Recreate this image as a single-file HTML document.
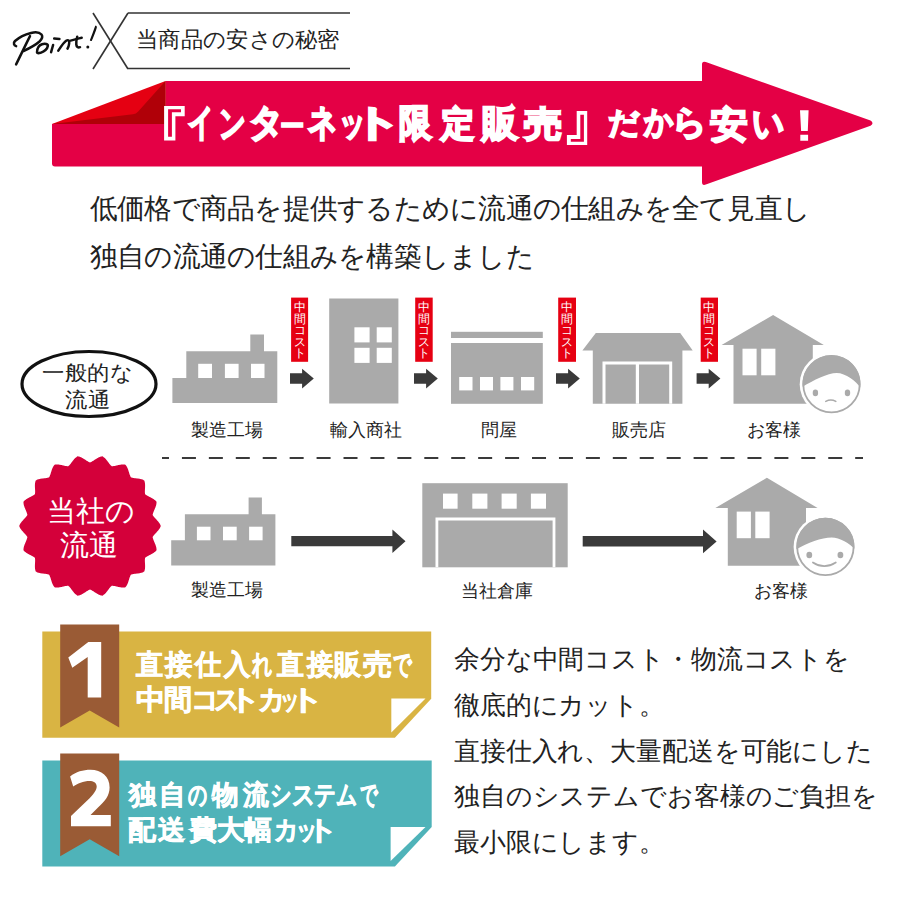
<!DOCTYPE html>
<html lang="ja"><head><meta charset="utf-8">
<style>
html,body{margin:0;padding:0;background:#fff;}
body{width:900px;height:900px;position:relative;overflow:hidden;font-family:"Liberation Sans",sans-serif;color:#222;}
.t{position:absolute;white-space:nowrap;}
svg{position:absolute;left:0;top:0;}
.vt{position:absolute;width:17px;font-size:11.5px;line-height:11.6px;color:#fff;text-align:center;white-space:normal;word-break:break-all;}
</style></head><body>
<svg width="900" height="900" viewBox="0 0 900 900">
  <!-- header -->
  <g fill="none" stroke="#111" stroke-width="2.5" stroke-linecap="round" stroke-linejoin="round">
    <path d="M16.1,46.1 C14,45.5 13,43 15,41 C19,37.5 25,34.5 31,33 C35,32 39.5,32.3 41.5,34.5 C43,36.5 42,39 39.5,41.5 C35.5,45 29,48.5 23.5,51"/>
    <path d="M30,36.1 C25,46 20.5,55.5 16.1,64.4"/>
    <path d="M37,52.6 C37,49 38,45.5 42,44.2 C45,43.3 48.2,44 47.8,46 C47.4,48.5 44,51.5 40.5,52.8 C39,53.3 37,53.4 37,52.6 Z"/>
    <path d="M53.1,45 L51.1,52.2"/>
    <path d="M54.2,38.6 L59.4,38.9"/>
    <path d="M58.3,50.6 C61,46.5 64,42 66.5,40.5 C68.5,39.5 69.6,41 69.2,43 C68.9,45 68.8,47 67.5,48.6"/>
    <path d="M70.6,40.6 C74,39.8 78,38.6 81.7,37.8"/>
    <path d="M77.2,36.7 C76.6,39 76,42 76.3,44.5 C76.6,47 78,48 80,47.2"/>
  </g>
  <path d="M95.8,26.3 C95,29 92.5,35 90.6,40.2 L91.2,40.4 C93.5,35 95.8,30 96.2,27 Z" fill="#111" stroke="#111" stroke-width="1.4" stroke-linejoin="round"/>
  <circle cx="87.8" cy="46.9" r="1.5" fill="#111"/>
  <g stroke="#333" stroke-width="1.6" fill="none">
    <path d="M93,13 L128,69"/>
    <path d="M93,69 L128,13"/>
    <path d="M128,13 L350,13"/>
    <path d="M128,68.5 L350,68.5"/>
  </g>
  <!-- banner -->
  <path d="M165.5,81 L702,81 L702,64.5 Q702,60.6 705.8,62 L870.5,120.6 Q874.5,123.2 870.5,125.8 L705.8,184.6 Q702,186 702,182 L702,166.5 L55,166.5 Q52,166.5 52,163.5 L52,124 L165.5,124 Z" fill="#e40045"/>
  <path d="M52,124 L165.5,81 L165.5,124 Z" fill="#e50012"/>
  <path d="M165.5,81 L165.5,124 L52,124 L133,114.2 Q136.2,113.8 138.2,111.4 Z" fill="#b00008"/>
  <path fill-rule="evenodd" fill="#fff" d="M164.1,105.9 L184.7,105.9 L184.7,116.3 L175.4,116.3 L175.4,140.6 L164.1,140.6 Z M168.1,109.3 L181,109.3 L181,112.3 L171.9,112.3 L171.9,136.8 L168.1,136.8 Z"/>
  <path fill-rule="evenodd" fill="#fff" d="M576.7,111.1 L587.2,111.1 L587.2,145 L566.9,145 L566.9,135 L576.7,135 Z M580.3,114.7 L583.9,114.7 L583.9,141.7 L570.8,141.7 L570.8,138.9 L580.3,138.9 Z"/>
  <path fill="#fff" d="M800,110.2 L808.6,110.2 L807.8,131.1 L801.1,131.1 Z M800.3,134.7 L808.1,134.7 L808.1,140.8 L800.3,140.8 Z"/>
  <!-- dashed line -->
  <line x1="162" y1="458" x2="863" y2="458" stroke="#3a3a3a" stroke-width="1.8" stroke-dasharray="14 12.93" stroke-dashoffset="7"/>
  <!-- row1 -->
  <ellipse cx="89" cy="384" rx="67" ry="32.5" fill="#fff" stroke="#111" stroke-width="3.2"/>
  <g fill="#aaa">
    <!-- factory -->
    <path d="M172.4,378 L186.3,378 L186.3,351.3 L250.3,351.3 L250.3,334.4 L264,334.4 L264,351.3 L277.3,351.3 L277.3,403 L172.4,403 Z"/>
    <!-- building -->
    <rect x="329.2" y="298.5" width="69.2" height="105"/>
    <!-- tonya -->
    <rect x="451" y="331.8" width="91.8" height="6.2"/>
    <rect x="451" y="343" width="91.8" height="60.8"/>
    <!-- shop -->
    <path d="M595.8,333 L680.2,333 L692.7,350.4 L682.4,350.4 L682.4,403.8 L592.8,403.8 L592.8,350.4 L582.4,350.4 Z"/>
    <!-- house -->
    <path d="M773.1,314.9 L823.8,345.1 L812.8,345.1 L812.8,403.8 L733.5,403.8 L733.5,345.1 L721.6,345.1 Z"/>
  </g>
  <g fill="#fff">
    <rect x="198.2" y="363.8" width="13.8" height="14.2"/><rect x="224.9" y="363.8" width="13.7" height="14.2"/><rect x="251" y="363.8" width="13.5" height="14.2"/>
    <rect x="354.4" y="327.3" width="15.2" height="15.1"/><rect x="376.7" y="327.3" width="15.1" height="15.1"/>
    <rect x="354.4" y="347.8" width="15.2" height="15.1"/><rect x="376.7" y="347.8" width="15.1" height="15.1"/>
    <rect x="459.2" y="377" width="13.3" height="13.4"/><rect x="480" y="377" width="13" height="13.4"/><rect x="500.4" y="377" width="13" height="13.4"/><rect x="521" y="377" width="13.2" height="13.4"/>
    <path d="M602.5,361.5 L672.2,361.5 L672.2,403.8 L669.2,403.8 L669.2,364.5 L639,364.5 L639,403.8 L635.8,403.8 L635.8,364.5 L605.5,364.5 L605.5,403.8 L602.5,403.8 Z"/>
    <rect x="742.5" y="348.7" width="14.1" height="26.6"/><rect x="761.2" y="348.7" width="14.2" height="26.6"/>
  </g>
  <!-- red labels -->
  <g fill="#e60012">
    <rect x="291.1" y="297.6" width="17" height="64.2"/>
    <rect x="415.2" y="297.6" width="17.5" height="64.2"/>
    <rect x="558.2" y="297.6" width="17.8" height="64.2"/>
    <rect x="700.7" y="297.6" width="17.3" height="64.2"/>
  </g>
  <!-- small arrows -->
  <g fill="#3a3a3a">
    <path id="sa" d="M290,373.3 L302.1,373.3 L302.1,368.7 L313.8,378.6 L302.1,388.5 L302.1,383.8 L290,383.8 Z"/>
    <use href="#sa" x="124"/>
    <use href="#sa" x="266"/>
    <use href="#sa" x="406.6"/>
  </g>
  <!-- face 1 -->
  <g>
    <circle cx="831.5" cy="384.2" r="31.8" fill="#fff"/>
    <circle cx="831.5" cy="384.2" r="28.2" fill="#fff" stroke="#aaa" stroke-width="1.8"/>
    <path d="M802.56,386.70 A29.05,29.05 0 1 1 860.36,387.50 C856.5,381.2 845.5,372.9 836.7,372.9 C827.5,372.9 813.5,380.2 802.56,386.70 Z" fill="#aaa"/>
    <ellipse cx="815.4" cy="392.9" rx="2.7" ry="3.3" fill="#aaa"/><ellipse cx="847.5" cy="392.9" rx="2.7" ry="3.3" fill="#aaa"/>
    <path d="M825.8,401.4 Q830.8,398.7 835.8,401.4" fill="none" stroke="#aaa" stroke-width="1.6" stroke-linecap="round"/>
  </g>
  <!-- row2 -->
  <polygon points="90.00,462.40 90.56,462.18 91.12,461.93 91.69,461.65 92.26,461.34 92.84,461.00 93.43,460.63 94.02,460.25 94.63,459.86 95.24,459.46 95.86,459.06 96.48,458.66 97.12,458.28 97.76,457.91 98.40,457.57 99.05,457.26 99.70,456.98 100.35,456.74 101.00,456.54 101.65,456.39 102.29,456.28 102.86,456.60 103.42,456.97 103.96,457.38 104.49,457.82 105.01,458.31 105.51,458.82 106.00,459.36 106.47,459.93 106.94,460.50 107.39,461.09 107.84,461.68 108.28,462.27 108.71,462.84 109.14,463.40 109.57,463.95 109.99,464.47 110.43,464.96 110.86,465.42 111.30,465.84 111.75,466.24 112.35,466.22 112.96,466.18 113.59,466.11 114.24,466.01 114.90,465.89 115.58,465.75 116.27,465.59 116.97,465.43 117.68,465.26 118.40,465.10 119.12,464.94 119.85,464.80 120.58,464.67 121.30,464.57 122.02,464.50 122.72,464.46 123.42,464.46 124.09,464.49 124.76,464.57 125.40,464.69 125.82,465.18 126.22,465.72 126.59,466.29 126.93,466.89 127.25,467.52 127.55,468.18 127.82,468.85 128.08,469.55 128.32,470.25 128.54,470.95 128.76,471.66 128.97,472.36 129.18,473.05 129.39,473.72 129.61,474.38 129.83,475.01 130.07,475.62 130.32,476.20 130.59,476.76 130.88,477.28 131.45,477.47 132.04,477.64 132.65,477.79 133.29,477.92 133.96,478.03 134.64,478.13 135.34,478.22 136.06,478.31 136.78,478.39 137.52,478.48 138.25,478.58 138.98,478.70 139.71,478.83 140.42,478.98 141.12,479.16 141.80,479.36 142.45,479.60 143.07,479.86 143.67,480.16 144.24,480.49 144.46,481.10 144.65,481.74 144.81,482.41 144.92,483.09 145.01,483.79 145.06,484.51 145.09,485.24 145.09,485.97 145.08,486.71 145.05,487.46 145.01,488.19 144.97,488.92 144.93,489.64 144.90,490.35 144.87,491.04 144.87,491.71 144.88,492.37 144.92,493.00 144.99,493.61 145.08,494.20 145.54,494.57 146.04,494.94 146.57,495.29 147.13,495.62 147.71,495.96 148.32,496.28 148.95,496.61 149.59,496.93 150.25,497.26 150.90,497.60 151.56,497.95 152.21,498.30 152.85,498.67 153.46,499.06 154.06,499.47 154.62,499.89 155.16,500.33 155.65,500.80 156.11,501.28 156.53,501.78 156.53,502.44 156.49,503.10 156.41,503.78 156.29,504.46 156.13,505.15 155.93,505.84 155.71,506.54 155.46,507.23 155.19,507.92 154.91,508.61 154.62,509.29 154.33,509.96 154.05,510.62 153.78,511.28 153.52,511.92 153.29,512.55 153.08,513.17 152.90,513.77 152.75,514.37 152.63,514.96 152.94,515.47 153.29,515.98 153.66,516.49 154.07,517.00 154.51,517.51 154.97,518.02 155.45,518.54 155.94,519.07 156.44,519.60 156.94,520.14 157.44,520.69 157.93,521.25 158.40,521.82 158.85,522.39 159.27,522.98 159.66,523.57 160.01,524.17 160.31,524.77 160.58,525.38 160.80,526.00 160.58,526.62 160.31,527.23 160.01,527.83 159.66,528.43 159.27,529.02 158.85,529.61 158.40,530.18 157.93,530.75 157.44,531.31 156.94,531.86 156.44,532.40 155.94,532.93 155.45,533.46 154.97,533.98 154.51,534.49 154.07,535.00 153.66,535.51 153.29,536.02 152.94,536.53 152.63,537.04 152.75,537.63 152.90,538.23 153.08,538.83 153.29,539.45 153.52,540.08 153.78,540.72 154.05,541.38 154.33,542.04 154.62,542.71 154.91,543.39 155.19,544.08 155.46,544.77 155.71,545.46 155.93,546.16 156.13,546.85 156.29,547.54 156.41,548.22 156.49,548.90 156.53,549.56 156.53,550.22 156.11,550.72 155.65,551.20 155.16,551.67 154.62,552.11 154.06,552.53 153.46,552.94 152.85,553.33 152.21,553.70 151.56,554.05 150.90,554.40 150.25,554.74 149.59,555.07 148.95,555.39 148.32,555.72 147.71,556.04 147.13,556.38 146.57,556.71 146.04,557.06 145.54,557.43 145.08,557.80 144.99,558.39 144.92,559.00 144.88,559.63 144.87,560.29 144.87,560.96 144.90,561.65 144.93,562.36 144.97,563.08 145.01,563.81 145.05,564.54 145.08,565.29 145.09,566.03 145.09,566.76 145.06,567.49 145.01,568.21 144.92,568.91 144.81,569.59 144.65,570.26 144.46,570.90 144.24,571.51 143.67,571.84 143.07,572.14 142.45,572.40 141.80,572.64 141.12,572.84 140.42,573.02 139.71,573.17 138.98,573.30 138.25,573.42 137.52,573.52 136.78,573.61 136.06,573.69 135.34,573.78 134.64,573.87 133.96,573.97 133.29,574.08 132.65,574.21 132.04,574.36 131.45,574.53 130.88,574.72 130.59,575.24 130.32,575.80 130.07,576.38 129.83,576.99 129.61,577.62 129.39,578.28 129.18,578.95 128.97,579.64 128.76,580.34 128.54,581.05 128.32,581.75 128.08,582.45 127.82,583.15 127.55,583.82 127.25,584.48 126.93,585.11 126.59,585.71 126.22,586.28 125.82,586.82 125.40,587.31 124.76,587.43 124.09,587.51 123.42,587.54 122.72,587.54 122.02,587.50 121.30,587.43 120.58,587.33 119.85,587.20 119.12,587.06 118.40,586.90 117.68,586.74 116.97,586.57 116.27,586.41 115.58,586.25 114.90,586.11 114.24,585.99 113.59,585.89 112.96,585.82 112.35,585.78 111.75,585.76 111.30,586.16 110.86,586.58 110.43,587.04 109.99,587.53 109.57,588.05 109.14,588.60 108.71,589.16 108.28,589.73 107.84,590.32 107.39,590.91 106.94,591.50 106.47,592.07 106.00,592.64 105.51,593.18 105.01,593.69 104.49,594.18 103.96,594.62 103.42,595.03 102.86,595.40 102.29,595.72 101.65,595.61 101.00,595.46 100.35,595.26 99.70,595.02 99.05,594.74 98.40,594.43 97.76,594.09 97.12,593.72 96.48,593.34 95.86,592.94 95.24,592.54 94.63,592.14 94.02,591.75 93.43,591.37 92.84,591.00 92.26,590.66 91.69,590.35 91.12,590.07 90.56,589.82 90.00,589.60 89.44,589.82 88.88,590.07 88.31,590.35 87.74,590.66 87.16,591.00 86.57,591.37 85.98,591.75 85.37,592.14 84.76,592.54 84.14,592.94 83.52,593.34 82.88,593.72 82.24,594.09 81.60,594.43 80.95,594.74 80.30,595.02 79.65,595.26 79.00,595.46 78.35,595.61 77.71,595.72 77.14,595.40 76.58,595.03 76.04,594.62 75.51,594.18 74.99,593.69 74.49,593.18 74.00,592.64 73.53,592.07 73.06,591.50 72.61,590.91 72.16,590.32 71.72,589.73 71.29,589.16 70.86,588.60 70.43,588.05 70.01,587.53 69.57,587.04 69.14,586.58 68.70,586.16 68.25,585.76 67.65,585.78 67.04,585.82 66.41,585.89 65.76,585.99 65.10,586.11 64.42,586.25 63.73,586.41 63.03,586.57 62.32,586.74 61.60,586.90 60.88,587.06 60.15,587.20 59.42,587.33 58.70,587.43 57.98,587.50 57.28,587.54 56.58,587.54 55.91,587.51 55.24,587.43 54.60,587.31 54.18,586.82 53.78,586.28 53.41,585.71 53.07,585.11 52.75,584.48 52.45,583.82 52.18,583.15 51.92,582.45 51.68,581.75 51.46,581.05 51.24,580.34 51.03,579.64 50.82,578.95 50.61,578.28 50.39,577.62 50.17,576.99 49.93,576.38 49.68,575.80 49.41,575.24 49.12,574.72 48.55,574.53 47.96,574.36 47.35,574.21 46.71,574.08 46.04,573.97 45.36,573.87 44.66,573.78 43.94,573.69 43.22,573.61 42.48,573.52 41.75,573.42 41.02,573.30 40.29,573.17 39.58,573.02 38.88,572.84 38.20,572.64 37.55,572.40 36.93,572.14 36.33,571.84 35.76,571.51 35.54,570.90 35.35,570.26 35.19,569.59 35.08,568.91 34.99,568.21 34.94,567.49 34.91,566.76 34.91,566.03 34.92,565.29 34.95,564.54 34.99,563.81 35.03,563.08 35.07,562.36 35.10,561.65 35.13,560.96 35.13,560.29 35.12,559.63 35.08,559.00 35.01,558.39 34.92,557.80 34.46,557.43 33.96,557.06 33.43,556.71 32.87,556.38 32.29,556.04 31.68,555.72 31.05,555.39 30.41,555.07 29.75,554.74 29.10,554.40 28.44,554.05 27.79,553.70 27.15,553.33 26.54,552.94 25.94,552.53 25.38,552.11 24.84,551.67 24.35,551.20 23.89,550.72 23.47,550.22 23.47,549.56 23.51,548.90 23.59,548.22 23.71,547.54 23.87,546.85 24.07,546.16 24.29,545.46 24.54,544.77 24.81,544.08 25.09,543.39 25.38,542.71 25.67,542.04 25.95,541.38 26.22,540.72 26.48,540.08 26.71,539.45 26.92,538.83 27.10,538.23 27.25,537.63 27.37,537.04 27.06,536.53 26.71,536.02 26.34,535.51 25.93,535.00 25.49,534.49 25.03,533.98 24.55,533.46 24.06,532.93 23.56,532.40 23.06,531.86 22.56,531.31 22.07,530.75 21.60,530.18 21.15,529.61 20.73,529.02 20.34,528.43 19.99,527.83 19.69,527.23 19.42,526.62 19.20,526.00 19.42,525.38 19.69,524.77 19.99,524.17 20.34,523.57 20.73,522.98 21.15,522.39 21.60,521.82 22.07,521.25 22.56,520.69 23.06,520.14 23.56,519.60 24.06,519.07 24.55,518.54 25.03,518.02 25.49,517.51 25.93,517.00 26.34,516.49 26.71,515.98 27.06,515.47 27.37,514.96 27.25,514.37 27.10,513.77 26.92,513.17 26.71,512.55 26.48,511.92 26.22,511.28 25.95,510.62 25.67,509.96 25.38,509.29 25.09,508.61 24.81,507.92 24.54,507.23 24.29,506.54 24.07,505.84 23.87,505.15 23.71,504.46 23.59,503.78 23.51,503.10 23.47,502.44 23.47,501.78 23.89,501.28 24.35,500.80 24.84,500.33 25.38,499.89 25.94,499.47 26.54,499.06 27.15,498.67 27.79,498.30 28.44,497.95 29.10,497.60 29.75,497.26 30.41,496.93 31.05,496.61 31.68,496.28 32.29,495.96 32.87,495.62 33.43,495.29 33.96,494.94 34.46,494.57 34.92,494.20 35.01,493.61 35.08,493.00 35.12,492.37 35.13,491.71 35.13,491.04 35.10,490.35 35.07,489.64 35.03,488.92 34.99,488.19 34.95,487.46 34.92,486.71 34.91,485.97 34.91,485.24 34.94,484.51 34.99,483.79 35.08,483.09 35.19,482.41 35.35,481.74 35.54,481.10 35.76,480.49 36.33,480.16 36.93,479.86 37.55,479.60 38.20,479.36 38.88,479.16 39.58,478.98 40.29,478.83 41.02,478.70 41.75,478.58 42.48,478.48 43.22,478.39 43.94,478.31 44.66,478.22 45.36,478.13 46.04,478.03 46.71,477.92 47.35,477.79 47.96,477.64 48.55,477.47 49.12,477.28 49.41,476.76 49.68,476.20 49.93,475.62 50.17,475.01 50.39,474.38 50.61,473.72 50.82,473.05 51.03,472.36 51.24,471.66 51.46,470.95 51.68,470.25 51.92,469.55 52.18,468.85 52.45,468.18 52.75,467.52 53.07,466.89 53.41,466.29 53.78,465.72 54.18,465.18 54.60,464.69 55.24,464.57 55.91,464.49 56.58,464.46 57.28,464.46 57.98,464.50 58.70,464.57 59.42,464.67 60.15,464.80 60.88,464.94 61.60,465.10 62.32,465.26 63.03,465.43 63.73,465.59 64.42,465.75 65.10,465.89 65.76,466.01 66.41,466.11 67.04,466.18 67.65,466.22 68.25,466.24 68.70,465.84 69.14,465.42 69.57,464.96 70.01,464.47 70.43,463.95 70.86,463.40 71.29,462.84 71.72,462.27 72.16,461.68 72.61,461.09 73.06,460.50 73.53,459.93 74.00,459.36 74.49,458.82 74.99,458.31 75.51,457.82 76.04,457.38 76.58,456.97 77.14,456.60 77.71,456.28 78.35,456.39 79.00,456.54 79.65,456.74 80.30,456.98 80.95,457.26 81.60,457.57 82.24,457.91 82.88,458.28 83.52,458.66 84.14,459.06 84.76,459.46 85.37,459.86 85.98,460.25 86.57,460.63 87.16,461.00 87.74,461.34 88.31,461.65 88.88,461.93 89.44,462.18" fill="#d4003a"/>
  <g fill="#aaa">
    <path d="M171.2,540.3 L184.9,540.3 L184.9,514.2 L248.6,514.2 L248.6,497.4 L261.9,497.4 L261.9,514.2 L275.4,514.2 L275.4,565.5 L171.2,565.5 Z"/>
    <rect x="422.3" y="483.2" width="145.4" height="84.1"/>
    <path d="M766.9,477.8 L817.6,508 L806,508 L806,565.8 L727.8,565.8 L727.8,508 L715.3,508 Z"/>
  </g>
  <g fill="#fff">
    <rect x="196.9" y="526.7" width="13.6" height="13.6"/><rect x="223" y="526.7" width="13.7" height="13.6"/><rect x="249.1" y="526.7" width="13.5" height="13.6"/>
    <rect x="443" y="493.6" width="14.6" height="15.1"/><rect x="472.3" y="493.6" width="15.1" height="15.1"/><rect x="501.6" y="493.6" width="15.1" height="15.1"/><rect x="530.9" y="493.6" width="15.1" height="15.1"/>
    <path d="M435.5,517.6 L555.4,517.6 L555.4,567.3 L552.6,567.3 L552.6,520.4 L438.3,520.4 L438.3,567.3 L435.5,567.3 Z"/>
    <rect x="736.7" y="511.6" width="14.2" height="26.6"/><rect x="755.3" y="511.6" width="14.3" height="26.6"/>
  </g>
  <g fill="#3a3a3a">
    <path d="M291.3,536.1 L392.4,536.1 L392.4,529.4 L405.5,541.2 L392.4,553 L392.4,546.2 L291.3,546.2 Z"/>
    <path d="M582.7,536.1 L703,536.1 L703,529.4 L716.6,541.4 L703,553.3 L703,546.4 L582.7,546.4 Z"/>
  </g>
  <g>
    <circle cx="825.4" cy="546.9" r="31.8" fill="#fff"/>
    <circle cx="825.4" cy="546.9" r="28.2" fill="#fff" stroke="#aaa" stroke-width="1.8"/>
    <path d="M796.44,549.20 A29.05,29.05 0 1 1 854.39,548.80 C850.4,543.9 839.4,537.5 831.7,537.5 C821.4,537.5 807.4,542.9 796.44,549.20 Z" fill="#aaa"/>
    <ellipse cx="809.3" cy="555.0" rx="2.9" ry="3.3" fill="#aaa"/><ellipse cx="840.4" cy="555.0" rx="2.9" ry="3.3" fill="#aaa"/>
    <path d="M812.9,562.5 Q824.2,569.9 835.8,562.5" fill="none" stroke="#aaa" stroke-width="1.7" stroke-linecap="round"/>
  </g>
  <!-- bottom ribbons -->
  <path d="M42.3,631.5 L431.2,631.5 L431.2,698.7 L394.9,737.7 L42.3,737.7 Z" fill="#d9b443"/>
  <path d="M391.3,698.5 L425.5,698.5 L391.3,732.5 Z" fill="#fff"/>
  <path d="M60.2,624.4 L119.2,624.4 L119.2,727.4 L89.7,710.4 L60.2,727.4 Z" fill="#9a5b35"/>
  <path d="M42.3,760.4 L431.7,760.4 L431.7,827 L394.9,866.5 L42.3,866.5 Z" fill="#4fb3b9"/>
  <path d="M390.6,827 L425.5,827 L390.6,861 Z" fill="#fff"/>
  <path d="M60.2,753.6 L119.2,753.6 L119.2,856.2 L89.7,839.2 L60.2,856.2 Z" fill="#9a5b35"/>
  <path fill="#fff" d="M88.3,642 L101.2,642 L101.2,697.5 L87.7,697.5 L87.7,657 L72.3,667.7 L68.3,657.5 Z"/>
  <path fill="#fff" d="M70.1,776.4 C76,771.8 83,769.8 90.5,769.8 C101.5,769.8 109.6,776.5 109.6,787.5 C109.6,796 104.5,801.5 98,807.5 L90.5,815.1 L110.8,815.1 L110.8,826.2 L71,826.2 L71,816 L89.6,798.2 C95,792.9 96.7,789.3 96.7,786.6 C96.7,782.2 93.2,780.9 89.6,780.9 C83.4,780.9 77.2,783.5 73.2,786.6 Z"/>
</svg>
<div class="t" style="left:136.00px;top:28.60px;font-size:22px;line-height:22px;color:#222;font-weight:normal;transform:scale(1.0136,1.0000);transform-origin:0 0;">当商品の安さの秘密</div>
<span class="t" style="left:183.35px;top:103.85px;font-size:37px;line-height:37px;color:#fff;font-weight:bold;-webkit-text-stroke:2.2px #fff;transform:scale(0.679,0.986);transform-origin:16.65px 20.35px;">イ</span>
<span class="t" style="left:212.59px;top:105.05px;font-size:37px;line-height:37px;color:#fff;font-weight:bold;-webkit-text-stroke:2.2px #fff;transform:scale(0.708,0.992);transform-origin:19.05px 20.35px;">ン</span>
<span class="t" style="left:248.25px;top:103.99px;font-size:37px;line-height:37px;color:#fff;font-weight:bold;-webkit-text-stroke:2.2px #fff;transform:scale(0.918,1.002);transform-origin:17.20px 20.16px;">タ</span>
<span class="t" style="left:274.45px;top:108.11px;font-size:37px;line-height:37px;color:#fff;font-weight:bold;-webkit-text-stroke:2.2px #fff;transform:scale(0.661,0.786);transform-origin:18.50px 17.39px;">ー</span>
<span class="t" style="left:304.48px;top:104.25px;font-size:37px;line-height:37px;color:#fff;font-weight:bold;-webkit-text-stroke:2.2px #fff;transform:scale(0.783,1.008);transform-origin:17.57px 20.35px;">ネ</span>
<span class="t" style="left:333.60px;top:103.67px;font-size:37px;line-height:37px;color:#fff;font-weight:bold;-webkit-text-stroke:2.2px #fff;transform:scale(0.721,0.983);transform-origin:18.50px 24.23px;">ッ</span>
<span class="t" style="left:358.91px;top:103.85px;font-size:37px;line-height:37px;color:#fff;font-weight:bold;-webkit-text-stroke:2.2px #fff;transform:scale(1.353,1.007);transform-origin:21.09px 20.35px;">ト</span>
<span class="t" style="left:397.41px;top:105.39px;font-size:37px;line-height:37px;color:#fff;font-weight:bold;-webkit-text-stroke:2.2px #fff;transform:scale(0.883,1.038);transform-origin:19.24px 19.61px;">限</span>
<span class="t" style="left:439.31px;top:105.84px;font-size:37px;line-height:37px;color:#fff;font-weight:bold;-webkit-text-stroke:2.2px #fff;transform:scale(0.910,0.950);transform-origin:17.39px 18.31px;">定</span>
<span class="t" style="left:481.42px;top:105.44px;font-size:37px;line-height:37px;color:#fff;font-weight:bold;-webkit-text-stroke:2.2px #fff;transform:scale(0.957,0.986);transform-origin:18.13px 19.06px;">販</span>
<span class="t" style="left:525.40px;top:105.65px;font-size:37px;line-height:37px;color:#fff;font-weight:bold;-webkit-text-stroke:2.2px #fff;transform:scale(1.046,0.954);transform-origin:17.95px 18.50px;">売</span>
<span class="t" style="left:605.39px;top:103.59px;font-size:37px;line-height:37px;color:#fff;font-weight:bold;-webkit-text-stroke:2.2px #fff;transform:scale(0.838,0.811);transform-origin:19.61px 20.16px;">だ</span>
<span class="t" style="left:640.25px;top:102.84px;font-size:37px;line-height:37px;color:#fff;font-weight:bold;-webkit-text-stroke:2.2px #fff;transform:scale(0.788,0.899);transform-origin:18.50px 20.91px;">か</span>
<span class="t" style="left:671.32px;top:103.99px;font-size:37px;line-height:37px;color:#fff;font-weight:bold;-webkit-text-stroke:2.2px #fff;transform:scale(0.934,0.928);transform-origin:18.69px 20.16px;">ら</span>
<span class="t" style="left:710.03px;top:106.47px;font-size:37px;line-height:37px;color:#fff;font-weight:bold;-webkit-text-stroke:2.2px #fff;transform:scale(1.025,0.981);transform-origin:18.32px 18.13px;">安</span>
<span class="t" style="left:748.66px;top:104.68px;font-size:37px;line-height:37px;color:#fff;font-weight:bold;-webkit-text-stroke:2.2px #fff;transform:scale(0.868,1.012);transform-origin:19.24px 20.72px;">い</span>
<div class="t" style="left:90.00px;top:195.50px;font-size:27px;line-height:27px;color:#222;font-weight:normal;transform:scale(1.0087,1.0200);transform-origin:0 0;">低価格で商品を提供するために流通の仕組みを全て見直し</div>
<div class="t" style="left:90.00px;top:244.30px;font-size:27px;line-height:27px;color:#222;font-weight:normal;transform:scale(1.0087,1.0200);transform-origin:0 0;">独自の流通の仕組みを構築しました</div>
<div class="t" style="left:41.50px;top:362.50px;font-size:22px;line-height:22px;color:#222;font-weight:normal;transform:scale(1.0300,0.9700);transform-origin:0 0;">一般的な</div>
<div class="t" style="left:65.00px;top:390.00px;font-size:22px;line-height:22px;color:#222;font-weight:normal;transform:scale(1.0300,0.9700);transform-origin:0 0;">流通</div>
<div class="vt" style="left:291.1px;top:302px">中間コスト</div>
<div class="vt" style="left:415.3px;top:302px">中間コスト</div>
<div class="vt" style="left:558.4px;top:302px">中間コスト</div>
<div class="vt" style="left:700.8px;top:302px">中間コスト</div>
<div class="t" style="left:190.60px;top:421.30px;font-size:18px;line-height:18px;color:#222;font-weight:normal;">製造工場</div>
<div class="t" style="left:330.00px;top:421.30px;font-size:18px;line-height:18px;color:#222;font-weight:normal;">輸入商社</div>
<div class="t" style="left:480.70px;top:421.30px;font-size:18px;line-height:18px;color:#222;font-weight:normal;">問屋</div>
<div class="t" style="left:612.00px;top:421.30px;font-size:18px;line-height:18px;color:#222;font-weight:normal;">販売店</div>
<div class="t" style="left:747.00px;top:421.30px;font-size:18px;line-height:18px;color:#222;font-weight:normal;">お客様</div>
<div class="t" style="left:191.00px;top:581.00px;font-size:18px;line-height:18px;color:#222;font-weight:normal;">製造工場</div>
<div class="t" style="left:461.00px;top:582.00px;font-size:18px;line-height:18px;color:#222;font-weight:normal;">当社倉庫</div>
<div class="t" style="left:753.60px;top:581.80px;font-size:18px;line-height:18px;color:#222;font-weight:normal;">お客様</div>
<div class="t" style="left:46.50px;top:496.50px;font-size:28.5px;line-height:28.5px;color:#fff;font-weight:normal;">当社の</div>
<div class="t" style="left:59.50px;top:530.50px;font-size:28.5px;line-height:28.5px;color:#fff;font-weight:normal;">流通</div>
<span class="t" style="left:135.68px;top:650.52px;font-size:27.5px;line-height:27.5px;color:#fff;font-weight:bold;-webkit-text-stroke:0.7px #fff;transform:scale(0.966,1.000);transform-origin:13.47px 12.93px;">直</span>
<span class="t" style="left:164.75px;top:650.52px;font-size:27.5px;line-height:27.5px;color:#fff;font-weight:bold;-webkit-text-stroke:0.7px #fff;transform:scale(0.975,1.000);transform-origin:13.20px 13.75px;">接</span>
<span class="t" style="left:194.44px;top:650.52px;font-size:27.5px;line-height:27.5px;color:#fff;font-weight:bold;-webkit-text-stroke:0.7px #fff;transform:scale(0.934,1.000);transform-origin:13.06px 14.30px;">仕</span>
<span class="t" style="left:223.04px;top:650.52px;font-size:27.5px;line-height:27.5px;color:#fff;font-weight:bold;-webkit-text-stroke:0.7px #fff;transform:scale(0.938,1.000);transform-origin:13.61px 14.03px;">入</span>
<span class="t" style="left:248.10px;top:650.52px;font-size:27.5px;line-height:27.5px;color:#fff;font-weight:bold;-webkit-text-stroke:0.7px #fff;transform:scale(0.712,1.000);transform-origin:13.75px 14.99px;">れ</span>
<span class="t" style="left:276.17px;top:650.52px;font-size:27.5px;line-height:27.5px;color:#fff;font-weight:bold;-webkit-text-stroke:0.7px #fff;transform:scale(0.958,1.000);transform-origin:13.47px 12.93px;">直</span>
<span class="t" style="left:305.75px;top:650.52px;font-size:27.5px;line-height:27.5px;color:#fff;font-weight:bold;-webkit-text-stroke:0.7px #fff;transform:scale(0.940,1.000);transform-origin:13.20px 13.75px;">接</span>
<span class="t" style="left:334.22px;top:650.52px;font-size:27.5px;line-height:27.5px;color:#fff;font-weight:bold;-webkit-text-stroke:0.7px #fff;transform:scale(0.972,1.000);transform-origin:13.48px 14.16px;">販</span>
<span class="t" style="left:363.66px;top:650.52px;font-size:27.5px;line-height:27.5px;color:#fff;font-weight:bold;-webkit-text-stroke:0.7px #fff;transform:scale(1.043,1.000);transform-origin:13.34px 13.75px;">売</span>
<span class="t" style="left:388.29px;top:650.52px;font-size:27.5px;line-height:27.5px;color:#fff;font-weight:bold;-webkit-text-stroke:0.7px #fff;transform:scale(0.660,1.000);transform-origin:14.71px 15.54px;">で</span>
<span class="t" style="left:136.55px;top:685.52px;font-size:27.5px;line-height:27.5px;color:#fff;font-weight:bold;-webkit-text-stroke:0.7px #fff;transform:scale(1.050,1.000);transform-origin:12.65px 13.48px;">中</span>
<span class="t" style="left:164.03px;top:685.52px;font-size:27.5px;line-height:27.5px;color:#fff;font-weight:bold;-webkit-text-stroke:0.7px #fff;transform:scale(1.004,1.000);transform-origin:13.47px 14.44px;">間</span>
<span class="t" style="left:190.55px;top:685.52px;font-size:27.5px;line-height:27.5px;color:#fff;font-weight:bold;-webkit-text-stroke:0.7px #fff;transform:scale(0.985,1.000);transform-origin:13.20px 15.81px;">コ</span>
<span class="t" style="left:212.92px;top:685.52px;font-size:27.5px;line-height:27.5px;color:#fff;font-weight:bold;-webkit-text-stroke:0.7px #fff;transform:scale(0.912,1.000);transform-origin:12.93px 15.40px;">ス</span>
<span class="t" style="left:231.02px;top:685.52px;font-size:27.5px;line-height:27.5px;color:#fff;font-weight:bold;-webkit-text-stroke:0.7px #fff;transform:scale(1.172,1.000);transform-origin:15.68px 15.13px;">ト</span>
<span class="t" style="left:256.70px;top:685.52px;font-size:27.5px;line-height:27.5px;color:#fff;font-weight:bold;-webkit-text-stroke:0.7px #fff;transform:scale(0.956,1.000);transform-origin:12.65px 14.99px;">カ</span>
<span class="t" style="left:276.35px;top:685.52px;font-size:27.5px;line-height:27.5px;color:#fff;font-weight:bold;-webkit-text-stroke:0.7px #fff;transform:scale(0.693,1.000);transform-origin:13.75px 18.01px;">ッ</span>
<span class="t" style="left:293.32px;top:685.52px;font-size:27.5px;line-height:27.5px;color:#fff;font-weight:bold;-webkit-text-stroke:0.7px #fff;transform:scale(1.250,1.000);transform-origin:15.68px 15.13px;">ト</span>
<span class="t" style="left:128.91px;top:780.65px;font-size:27.3px;line-height:27.3px;color:#fff;font-weight:bold;-webkit-text-stroke:0.7px #fff;transform:scale(1.015,1.000);transform-origin:13.24px 13.79px;">独</span>
<span class="t" style="left:158.86px;top:780.65px;font-size:27.3px;line-height:27.3px;color:#fff;font-weight:bold;-webkit-text-stroke:0.7px #fff;transform:scale(0.979,1.000);transform-origin:13.24px 13.79px;">自</span>
<span class="t" style="left:184.24px;top:780.65px;font-size:27.3px;line-height:27.3px;color:#fff;font-weight:bold;-webkit-text-stroke:0.7px #fff;transform:scale(0.702,1.000);transform-origin:13.51px 15.56px;">の</span>
<span class="t" style="left:212.44px;top:780.65px;font-size:27.3px;line-height:27.3px;color:#fff;font-weight:bold;-webkit-text-stroke:0.7px #fff;transform:scale(0.981,1.000);transform-origin:12.56px 14.20px;">物</span>
<span class="t" style="left:242.20px;top:780.65px;font-size:27.3px;line-height:27.3px;color:#fff;font-weight:bold;-webkit-text-stroke:0.7px #fff;transform:scale(0.954,1.000);transform-origin:13.65px 13.24px;">流</span>
<span class="t" style="left:267.33px;top:780.65px;font-size:27.3px;line-height:27.3px;color:#fff;font-weight:bold;-webkit-text-stroke:0.7px #fff;transform:scale(0.790,1.000);transform-origin:13.92px 15.15px;">シ</span>
<span class="t" style="left:290.47px;top:780.65px;font-size:27.3px;line-height:27.3px;color:#fff;font-weight:bold;-webkit-text-stroke:0.7px #fff;transform:scale(0.846,1.000);transform-origin:12.83px 15.29px;">ス</span>
<span class="t" style="left:311.49px;top:780.65px;font-size:27.3px;line-height:27.3px;color:#fff;font-weight:bold;-webkit-text-stroke:0.7px #fff;transform:scale(0.800,1.000);transform-origin:13.51px 15.56px;">テ</span>
<span class="t" style="left:333.32px;top:780.65px;font-size:27.3px;line-height:27.3px;color:#fff;font-weight:bold;-webkit-text-stroke:0.7px #fff;transform:scale(0.775,1.000);transform-origin:13.38px 14.33px;">ム</span>
<span class="t" style="left:354.54px;top:780.65px;font-size:27.3px;line-height:27.3px;color:#fff;font-weight:bold;-webkit-text-stroke:0.7px #fff;transform:scale(0.647,1.000);transform-origin:14.61px 15.42px;">で</span>
<span class="t" style="left:127.74px;top:815.65px;font-size:27.3px;line-height:27.3px;color:#fff;font-weight:bold;-webkit-text-stroke:0.7px #fff;transform:scale(1.030,1.000);transform-origin:14.06px 14.33px;">配</span>
<span class="t" style="left:158.19px;top:815.65px;font-size:27.3px;line-height:27.3px;color:#fff;font-weight:bold;-webkit-text-stroke:0.7px #fff;transform:scale(1.001,1.000);transform-origin:13.51px 13.24px;">送</span>
<span class="t" style="left:188.55px;top:815.65px;font-size:27.3px;line-height:27.3px;color:#fff;font-weight:bold;-webkit-text-stroke:0.7px #fff;transform:scale(1.037,1.000);transform-origin:13.10px 14.06px;">費</span>
<span class="t" style="left:216.88px;top:815.65px;font-size:27.3px;line-height:27.3px;color:#fff;font-weight:bold;-webkit-text-stroke:0.7px #fff;transform:scale(1.011,1.000);transform-origin:13.92px 13.65px;">大</span>
<span class="t" style="left:245.37px;top:815.65px;font-size:27.3px;line-height:27.3px;color:#fff;font-weight:bold;-webkit-text-stroke:0.7px #fff;transform:scale(1.043,1.000);transform-origin:13.38px 14.06px;">幅</span>
<span class="t" style="left:273.24px;top:815.65px;font-size:27.3px;line-height:27.3px;color:#fff;font-weight:bold;-webkit-text-stroke:0.7px #fff;transform:scale(0.887,1.000);transform-origin:12.56px 14.88px;">カ</span>
<span class="t" style="left:292.60px;top:815.65px;font-size:27.3px;line-height:27.3px;color:#fff;font-weight:bold;-webkit-text-stroke:0.7px #fff;transform:scale(0.781,1.000);transform-origin:13.65px 17.88px;">ッ</span>
<span class="t" style="left:309.44px;top:815.65px;font-size:27.3px;line-height:27.3px;color:#fff;font-weight:bold;-webkit-text-stroke:0.7px #fff;transform:scale(1.180,1.000);transform-origin:15.56px 15.02px;">ト</span>
<div class="t" style="left:454.30px;top:646.00px;font-size:26px;line-height:26px;color:#222;font-weight:normal;transform:scale(0.9950,1.0000);transform-origin:0 0;">余分な中間コスト・物流コストを</div>
<div class="t" style="left:454.30px;top:691.70px;font-size:26px;line-height:26px;color:#222;font-weight:normal;transform:scale(0.9950,1.0000);transform-origin:0 0;">徹底的にカット。</div>
<div class="t" style="left:454.30px;top:737.70px;font-size:26px;line-height:26px;color:#222;font-weight:normal;transform:scale(0.9950,1.0000);transform-origin:0 0;">直接仕入れ、大量配送を可能にした</div>
<div class="t" style="left:454.30px;top:783.00px;font-size:26px;line-height:26px;color:#222;font-weight:normal;transform:scale(0.9950,1.0000);transform-origin:0 0;">独自のシステムでお客様のご負担を</div>
<div class="t" style="left:454.30px;top:829.20px;font-size:26px;line-height:26px;color:#222;font-weight:normal;transform:scale(0.9950,1.0000);transform-origin:0 0;">最小限にします。</div>
</body></html>
